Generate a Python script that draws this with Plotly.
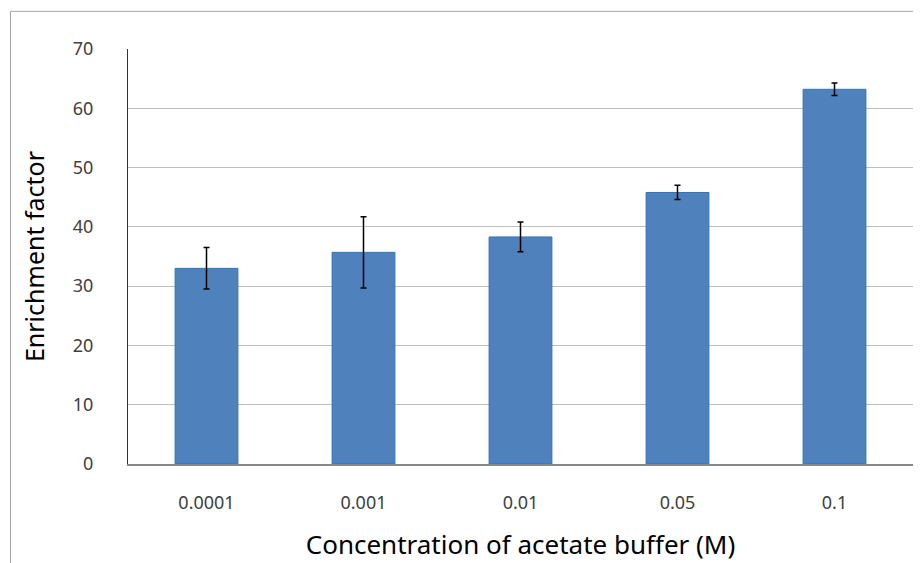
import plotly.graph_objects as go

categories = ["0.0001", "0.001", "0.01", "0.05", "0.1"]
enrichment = [33.0, 35.7, 38.3, 45.8, 63.2]
error = [3.5, 6.0, 2.5, 1.2, 1.05]
y_ticks = [0, 10, 20, 30, 40, 50, 60, 70]

fig = go.Figure()
fig.add_trace(go.Bar(
    x=categories, y=enrichment,
    width=0.4,
    marker=dict(color="#4F81BD", line=dict(color="#2E75B6", width=1)),
    error_y=dict(type="data", array=error, visible=True, color="#000000",
                 thickness=1.5, width=3),
))

# page body has an 8px margin, so the figure is drawn 8px smaller
W, H = 913, 555
L, R, T, B = 120, 8, 40.7, 98.7
pw, ph = W - L - R, H - T - B

fig.update_layout(
    width=W, height=H, autosize=False,
    margin=dict(l=L, r=R, t=T, b=B, pad=0),
    plot_bgcolor="white", paper_bgcolor="white",
    showlegend=False,
    font=dict(family="Noto Sans", color="#404040"),
    xaxis=dict(
        showgrid=False, showline=True, linecolor="#868686", linewidth=1.5,
        ticks="", tickfont=dict(size=18, color="#404040"),
        ticklabelstandoff=22,
        title=dict(text="Concentration of acetate buffer (M)",
                   font=dict(size=26, color="#000000"), standoff=22),
        automargin=False,
    ),
    yaxis=dict(
        range=[0, 70], tickvals=y_ticks, showgrid=True, gridcolor="#BFBFBF",
        gridwidth=1, zeroline=False, showline=True, linecolor="#333333",
        linewidth=1, ticks="", tickfont=dict(size=18, color="#404040"),
        ticklabelstandoff=30,
        title=dict(text="Enrichment factor",
                   font=dict(size=25, color="#000000"), standoff=21),
        automargin=False,
    ),
)

# outer chart-area frame
fig.add_shape(type="rect", xref="paper", yref="paper",
              x0=(2.5 - L) / pw, x1=(930 - L) / pw,
              y0=(H - B - 3) / ph, y1=(H - B - 575) / ph,
              line=dict(color="#A6A6A6", width=1), fillcolor="rgba(0,0,0,0)",
              layer="below")

fig.write_html("out.html")
